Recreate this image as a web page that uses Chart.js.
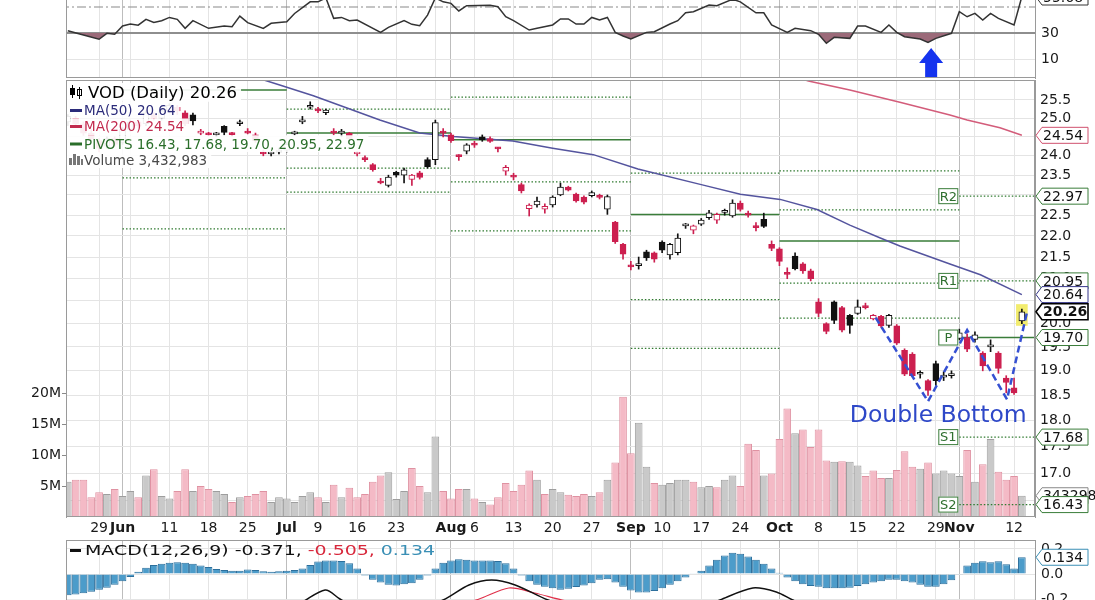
<!DOCTYPE html>
<html>
<head>
<meta charset="utf-8">
<title>VOD Daily</title>
<script src="https://cdn.jsdelivr.net/npm/chart.js@4.4.1/dist/chart.umd.min.js"></script>
<style>
  html, body { margin: 0; padding: 0; background: #fff; }
  body { width: 1095px; height: 600px; position: relative; overflow: hidden; }
  canvas { position: absolute; left: 0; }
  #rsi { top: 0; }
  #price { top: 78px; }
  #macd { top: 540px; }
</style>
</head>
<body>
<canvas id="rsi" width="1095" height="79"></canvas>
<canvas id="price" width="1095" height="462"></canvas>
<canvas id="macd" width="1095" height="60"></canvas>
<script>
// trading days 0..122 (May 22 .. Nov 13), one candle per day
var open = [24.90,25.00,24.85,24.60,24.40,24.25,24.45,24.35,24.70,24.90,
  24.85,25.10,25.00,25.20,25.30,25.15,25.09,24.60,24.60,24.55,
  24.78,24.60,24.85,24.61,24.55,24.10,24.05,24.10,24.15,24.58,
  24.90,25.30,25.22,25.15,24.62,24.60,24.60,24.05,23.92,23.77,
  23.32,23.24,23.57,23.50,23.39,23.56,23.90,23.90,24.65,24.55,
  24.00,24.12,24.33,24.50,24.45,24.20,23.60,23.48,23.26,22.66,
  22.75,22.65,22.75,23.00,23.20,23.02,22.95,22.98,22.96,22.65,
  22.33,21.80,21.30,21.30,21.62,21.60,21.85,21.55,21.60,22.24,
  22.14,22.28,22.44,22.38,22.57,22.48,22.80,22.53,22.25,22.40,
  21.80,21.69,21.12,21.52,21.34,21.18,20.48,20.00,20.48,20.35,
  20.18,20.22,20.38,20.10,20.16,19.96,19.95,19.43,19.35,18.93,
  18.80,19.15,18.87,18.90,19.68,19.70,19.66,19.37,19.50,19.37,
  18.85,18.65,20.06];
var high = [25.10,25.05,24.90,24.70,24.45,24.50,24.50,24.75,24.95,24.95,
  25.20,25.15,25.25,25.40,25.35,25.20,25.14,24.70,24.62,24.62,
  24.80,24.62,24.95,24.72,24.60,24.15,24.12,24.20,24.35,24.65,
  25.05,25.45,25.30,25.25,24.72,24.70,24.62,24.12,24.00,23.80,
  23.42,23.50,23.60,23.68,23.52,23.60,23.95,24.95,24.72,24.60,
  24.03,24.32,24.38,24.55,24.50,24.22,23.75,23.55,23.30,22.78,
  22.95,22.78,22.98,23.30,23.22,23.05,22.98,23.10,23.02,23.00,
  22.35,21.82,21.40,21.50,21.66,21.62,21.88,21.82,22.05,22.30,
  22.26,22.42,22.62,22.55,22.65,22.88,22.85,22.60,22.32,22.55,
  21.88,21.72,21.25,21.60,21.37,21.22,20.55,20.02,20.50,20.38,
  20.20,20.52,20.45,20.20,20.18,20.20,19.98,19.46,19.38,19.00,
  18.82,19.20,18.98,19.00,19.88,19.78,19.82,19.40,19.65,19.40,
  18.90,18.85,20.32];
var low = [24.80,24.75,24.55,24.40,24.10,24.20,24.25,24.30,24.65,24.75,
  24.80,24.95,24.95,25.15,25.10,24.80,24.82,24.55,24.52,24.50,
  24.55,24.52,24.80,24.58,24.35,24.00,24.00,24.05,24.10,24.55,
  24.85,25.25,25.15,25.10,24.55,24.50,24.40,24.00,23.85,23.60,
  23.28,23.20,23.45,23.30,23.24,23.40,23.68,23.77,24.50,24.35,
  23.88,24.05,24.22,24.38,24.35,24.10,23.50,23.38,23.05,22.48,
  22.70,22.55,22.70,22.98,23.10,22.82,22.78,22.95,22.90,22.52,
  21.82,21.45,21.20,21.22,21.42,21.38,21.60,21.45,21.55,22.18,
  22.05,22.25,22.40,22.30,22.50,22.45,22.60,22.45,22.12,22.20,
  21.65,21.30,21.00,21.20,21.12,20.95,20.15,19.78,20.00,19.82,
  19.79,20.20,20.32,20.08,19.92,19.92,19.55,18.90,18.88,18.85,
  18.50,18.70,18.80,18.85,19.65,19.40,19.60,19.00,19.40,18.95,
  18.55,18.52,20.00];
var close = [25.05,24.85,24.60,24.45,24.20,24.45,24.30,24.70,24.90,24.80,
  25.15,25.00,25.20,25.35,25.20,24.85,24.93,24.65,24.55,24.60,
  24.62,24.56,24.88,24.60,24.40,24.05,24.08,24.15,24.30,24.60,
  24.95,25.35,25.20,25.22,24.60,24.65,24.45,24.10,23.90,23.64,
  23.30,23.45,23.50,23.64,23.50,23.44,23.72,24.88,24.60,24.40,
  23.98,24.29,24.28,24.42,24.38,24.18,23.70,23.45,23.10,22.75,
  22.85,22.72,22.95,23.20,23.12,22.85,22.82,23.06,22.94,22.96,
  21.86,21.57,21.27,21.35,21.48,21.45,21.66,21.80,21.95,22.26,
  22.24,22.38,22.56,22.52,22.60,22.80,22.64,22.50,22.20,22.23,
  21.70,21.40,21.10,21.23,21.18,21.00,20.22,19.83,20.07,19.86,
  19.96,20.37,20.35,20.18,19.95,20.18,19.58,18.93,18.90,18.95,
  18.60,18.80,18.90,18.93,19.80,19.45,19.76,19.10,19.52,19.05,
  18.76,18.55,20.26];
// volume in millions of shares
var volume = [5.7,6.0,6.0,3.2,4.0,3.7,4.5,3.4,4.2,3.2,
  6.7,7.7,3.4,3.0,4.2,7.7,4.2,5.0,4.5,4.2,
  3.7,2.4,3.2,3.4,3.7,4.2,2.4,3.2,3.0,2.4,
  3.4,4.0,3.2,2.4,5.2,3.2,4.7,3.2,3.7,5.7,
  6.7,7.2,2.9,4.2,7.9,5.0,4.0,13.0,4.2,3.0,
  4.5,4.5,3.0,2.4,2.0,3.2,5.5,4.2,5.2,7.5,
  6.0,3.7,4.5,4.0,3.6,3.4,3.7,3.4,4.0,6.0,
  8.8,19.4,10.3,15.2,8.1,5.5,5.2,5.5,6.0,6.0,
  5.7,4.8,5.0,4.8,6.0,6.7,5.0,11.8,10.8,6.7,
  7.0,12.6,17.5,13.5,14.1,11.3,14.1,9.1,8.9,9.0,
  8.9,8.3,6.6,7.5,6.3,6.3,7.6,10.6,8.1,7.8,
  8.8,7.0,7.5,7.0,6.6,10.8,5.7,8.5,12.6,7.3,
  6.0,6.6,3.43];
var macdHist = [-0.170,-0.163,-0.154,-0.141,-0.125,-0.109,-0.086,-0.057,-0.023,0.018,
  0.050,0.073,0.082,0.091,0.095,0.091,0.082,0.068,0.057,0.041,
  0.032,0.027,0.027,0.036,0.032,0.023,0.018,0.023,0.027,0.032,
  0.045,0.073,0.100,0.109,0.109,0.104,0.086,0.045,-0.011,-0.045,
  -0.068,-0.086,-0.091,-0.082,-0.073,-0.045,-0.011,0.045,0.091,0.109,
  0.118,0.114,0.109,0.109,0.109,0.104,0.086,0.045,-0.011,-0.057,
  -0.086,-0.102,-0.114,-0.125,-0.118,-0.104,-0.091,-0.073,-0.045,-0.041,
  -0.068,-0.102,-0.132,-0.148,-0.148,-0.136,-0.114,-0.086,-0.057,-0.027,
  0.007,0.027,0.068,0.114,0.148,0.170,0.163,0.141,0.114,0.082,
  0.045,0.011,-0.027,-0.057,-0.082,-0.095,-0.102,-0.114,-0.114,-0.114,
  -0.109,-0.095,-0.082,-0.068,-0.057,-0.045,-0.045,-0.057,-0.068,-0.086,
  -0.102,-0.102,-0.082,-0.050,-0.005,0.068,0.091,0.102,0.095,0.102,
  0.079,0.045,0.134];

// line series (trading-day position, value)
var rsiX = [0,2,4,5,6,7,8,9,10,11,12,13,14,15,16,18,20,21,22,23,25,26,28,29,31,32,33,34,35,36,
  37,40,41,43,44,45,46,47,48,49,50,51,54,55,56,57,59,60,62,63,64,65,66,67,68,69,70,71,72,74,
  75,77,78,79,80,82,83,85,86,88,89,90,92,93,95,96,97,98,100,101,102,104,105,106,107,109,110,111,113,114,
  115,116,117,118,119,121,122];
var rsiY = [31.8,28.5,25.2,29.8,29.0,35.4,36.9,36.0,40.5,38.2,39.5,42.0,40.5,33.6,39.5,33.6,35.4,34.8,43.0,38.0,
  33.6,37.5,38.7,45.0,54.0,54.0,57.0,41.3,42.0,39.5,40.0,30.5,34.4,39.5,36.7,35.6,43.8,57.0,54.0,52.8,
  47.0,51.0,51.3,50.2,42.5,39.5,32.3,33.6,36.2,40.8,40.8,36.9,36.9,42.0,40.0,42.0,30.5,27.7,25.4,30.5,
  31.0,36.9,39.5,45.6,46.4,51.5,51.0,56.0,54.0,45.6,45.6,36.2,30.5,33.6,31.8,29.0,22.1,26.7,25.9,35.4,
  35.4,30.5,36.2,30.5,27.2,25.4,22.8,25.9,29.8,46.4,42.5,45.1,40.0,45.1,41.3,36.2,58.0];
var ma50X = [24.5,27.1,31.4,35.7,39.9,45.0,49.3,56.9,62.0,67.2,72.9,81.0,86.0,91.1,95.8,100.0,103.9,106.4,112.8,116.7,122.0];
var ma50Y = [26.10,25.92,25.62,25.28,24.95,24.60,24.51,24.39,24.20,24.03,23.66,23.26,23.02,22.89,22.64,22.26,21.95,21.76,21.34,21.09,20.64];
var ma200X = [93.5,94.7,100.0,106.4,112.8,115.0,119.2,122.0];
var ma200Y = [26.12,26.03,25.78,25.44,25.09,24.95,24.74,24.54];
var macdX = [0,20,29,32.9,34.8,37,45,48,51.3,54.2,57.2,61.4,66,75,80,83.4,87.6,90.6,92.7,100,110,122];
var macdY = [-0.45,-0.3,-0.25,-0.128,-0.2,-0.27,-0.26,-0.208,-0.088,-0.048,-0.088,-0.208,-0.3,-0.45,-0.3,-0.208,-0.112,-0.144,-0.208,-0.4,-0.55,-0.371];
var signalX = [0,45,52.2,56.4,59.7,63.2,70,122];
var signalY = [-0.4,-0.3,-0.208,-0.112,-0.152,-0.208,-0.3,-0.505];
var bottomX = [103.3,110.0,115.0,120.1,122.7];
var bottomY = [20.13,18.38,19.86,18.42,20.28];

// monthly pivot levels, each month runs from its first trading day to the next
var pivotStart = [7,28,49,72,91,114];
var pivotEnd = [28,49,72,91,114,124];
var pivotP = [25.78,24.60,24.42,22.52,21.88,19.70];
var pivotR2 = [null,null,null,null,23.61,22.97];
var pivotR1 = [null,25.25,25.58,23.55,22.63,20.95];
var pivotS1 = [23.43,23.68,23.33,20.53,20.90,17.68];
var pivotS2 = [22.17,23.07,22.12,19.47,20.12,16.43];

// axis ticks
var tickIdx = [4,7,8,13,18,23,28,32,37,42,47,49,52,57,62,67,72,76,81,86,91,96,101,106,111,114,116,121];
var tickText = ["29","Jun","","11","18","25","Jul","9","16","23","","Aug","6","13","20","27","Sep","10","17","24","Oct","8","15","22","29","Nov","","12"];
var monthIdx = [7,28,49,72,91,114];
var priceTicks = [16.5,17.0,17.5,18.0,18.5,19.0,19.5,20.0,20.5,21.0,21.5,22.0,22.5,23.0,23.5,24.0,24.5,25.0,25.5];
var volTicks = [5,10,15,20];
var rsiTicks = [10,30];
var macdTicks = [-0.2,0,0.2];

Chart.defaults.font.family = "'DejaVu Sans', sans-serif";
Chart.defaults.font.size = 14;
Chart.defaults.color = "#222";
Chart.defaults.animation = false;
Chart.defaults.plugins.legend.display = false;
Chart.defaults.plugins.tooltip.enabled = false;

var FONT = "'DejaVu Sans', sans-serif";
var GREEN = "#3a7d3a";
var days = close.map(function (c, i) { return i; });
var upDay = close.map(function (c, i) { return i === 0 || c >= close[i - 1]; });
var candleColor = upDay.map(function (u) { return u ? "#111111" : "#cc1f4f"; });
var bodyFill = close.map(function (c, i) { return c > open[i] ? "#ffffff" : candleColor[i]; });

function points(xs, ys) {
  return xs.map(function (x, i) { return { x: x, y: ys[i] }; });
}

function segments(levelSets) {
  var out = [];
  levelSets.forEach(function (levels) {
    levels.forEach(function (v, m) {
      if (v == null) return;
      out.push({ x: pivotStart[m], y: v }, { x: pivotEnd[m], y: v }, { x: pivotEnd[m], y: null });
    });
  });
  return out;
}

function isMonth(v) {
  return monthIdx.indexOf(v) >= 0;
}

// chart.js reserves half a label of room above/below axes; the panels here are cropped instead
function noPadY(width) {
  return function (s) {
    s.width = width;
    s.paddingTop = 0;
    s.paddingBottom = 0;
  };
}

function xAxis(withLabels) {
  return {
    type: "linear",
    min: -0.23,
    max: 123.68,
    offset: false,
    afterBuildTicks: function (s) {
      s.ticks = tickIdx.map(function (v) { return { value: v }; });
    },
    afterFit: function (s) {
      s.height = withLabels ? 23 : 0;
      s.paddingLeft = 0;
      s.paddingRight = 0;
    },
    grid: {
      offset: false,
      drawTicks: false,
      color: function (c) { return c.tick && isMonth(c.tick.value) ? "#bdbdbd" : "#e4e4e4"; },
    },
    border: { display: false },
    ticks: {
      display: withLabels,
      autoSkip: false,
      maxRotation: 0,
      padding: 3,
      color: "#1a1a1a",
      callback: function (v, i) { return tickText[i]; },
      font: function (c) {
        var bold = c.tick && isMonth(c.tick.value);
        return { family: FONT, size: 14, weight: bold ? "bold" : "normal" };
      },
    },
  };
}

function drawTag(ctx, x, y, text, color, bold) {
  ctx.save();
  ctx.beginPath();
  ctx.moveTo(x, y);
  ctx.lineTo(x + 6, y - 8);
  ctx.lineTo(x + 52, y - 8);
  ctx.lineTo(x + 52, y + 8);
  ctx.lineTo(x + 6, y + 8);
  ctx.closePath();
  ctx.fillStyle = "#ffffff";
  ctx.fill();
  ctx.lineWidth = bold ? 1.6 : 1;
  ctx.strokeStyle = color;
  ctx.stroke();
  ctx.fillStyle = "#111";
  ctx.font = (bold ? "bold " : "") + "14px " + FONT;
  ctx.textBaseline = "middle";
  ctx.fillText(text, x + 7, y + 1);
  ctx.restore();
}

function framePlugin(sides) {
  return {
    id: "frame",
    afterDatasetsDraw: function (chart) {
      var a = chart.chartArea, ctx = chart.ctx;
      ctx.save();
      ctx.strokeStyle = "#9a9a9a";
      ctx.lineWidth = 1;
      ctx.beginPath();
      if (sides.indexOf("t") >= 0) { ctx.moveTo(a.left, a.top + 0.5); ctx.lineTo(a.right, a.top + 0.5); }
      if (sides.indexOf("b") >= 0) { ctx.moveTo(a.left, a.bottom - 0.5); ctx.lineTo(a.right, a.bottom - 0.5); }
      if (sides.indexOf("l") >= 0) { ctx.moveTo(a.left + 0.5, a.top); ctx.lineTo(a.left + 0.5, a.bottom); }
      if (sides.indexOf("r") >= 0) { ctx.moveTo(a.right - 0.5, a.top); ctx.lineTo(a.right - 0.5, a.bottom); }
      ctx.stroke();
      ctx.restore();
    },
  };
}

/* ---------- RSI panel ---------- */
new Chart(document.getElementById("rsi"), {
  type: "line",
  data: {
    datasets: [
      {
        data: points(rsiX, rsiY),
        borderColor: "#333333",
        borderWidth: 1.5,
        pointRadius: 0,
        tension: 0,
        fill: { target: { value: 30 }, above: "rgba(0,0,0,0)", below: "#9b6a79" },
      },
      {
        data: [{ x: -1, y: 50 }, { x: 125, y: 50 }],
        borderColor: "#8a8a8a",
        borderWidth: 1.2,
        borderDash: [9, 3, 2, 3],
        pointRadius: 0,
      },
    ],
  },
  options: {
    responsive: false,
    devicePixelRatio: 1,
    layout: { padding: { left: 66, right: 0, top: 0, bottom: 1 } },
    scales: {
      x: xAxis(false),
      y: {
        position: "right",
        min: -4.6,
        max: 55.4,
        afterFit: noPadY(60),
        afterBuildTicks: function (s) {
          s.ticks = rsiTicks.map(function (v) { return { value: v }; });
        },
        grid: {
          drawTicks: false,
          color: function (c) { return c.tick && c.tick.value === 30 ? "#8e8e8e" : "#e4e4e4"; },
          lineWidth: function (c) { return c.tick && c.tick.value === 30 ? 2 : 1; },
        },
        border: { color: "#9a9a9a" },
        ticks: { padding: 6, color: "#1a1a1a" },
      },
    },
  },
  plugins: [
    framePlugin("lb"),
    {
      id: "rsiExtras",
      afterDraw: function (chart) {
        var ctx = chart.ctx;
        var x = chart.scales.x.getPixelForValue(110.4);
        ctx.save();
        ctx.fillStyle = "#1533ee";
        ctx.beginPath();
        ctx.moveTo(x, 48);
        ctx.lineTo(x + 12, 63);
        ctx.lineTo(x + 6, 63);
        ctx.lineTo(x + 6, 77);
        ctx.lineTo(x - 6, 77);
        ctx.lineTo(x - 6, 63);
        ctx.lineTo(x - 12, 63);
        ctx.closePath();
        ctx.fill();
        ctx.restore();
        drawTag(ctx, chart.chartArea.right + 1, -3, "55.68", "#333", false);
      },
    },
  ],
});

/* ---------- price + volume panel ---------- */
var legendRows = [
  { text: "VOD (Daily) 20.26", color: "#000000", size: 16.5, mark: "candle", y: 15 },
  { text: "MA(50) 20.64", color: "#2b2b7a", size: 13.5, mark: "line", y: 32.5 },
  { text: "MA(200) 24.54", color: "#c22a4e", size: 13.5, mark: "line", y: 48.5 },
  { text: "PIVOTS 16.43, 17.68, 19.70, 20.95, 22.97", color: "#2a6e2a", size: 13.5, mark: "line", y: 66 },
  { text: "Volume 3,432,983", color: "#4a4a4a", size: 13.5, mark: "bars", y: 82 },
];
var priceTags = [
  { v: 24.54, text: "24.54", color: "#d0506e" },
  { v: 22.97, text: "22.97", color: GREEN },
  { v: 20.95, text: "20.95", color: GREEN },
  { v: 20.64, text: "20.64", color: "#35358a" },
  { v: 19.70, text: "19.70", color: GREEN },
  { v: 17.68, text: "17.68", color: GREEN },
  { v: 20.26, text: "20.26", color: "#000000", bold: true },
];
var pivotLabels = [
  { v: 22.97, text: "R2" },
  { v: 20.95, text: "R1" },
  { v: 19.70, text: "P" },
  { v: 17.68, text: "S1" },
  { v: 16.43, text: "S2" },
];

new Chart(document.getElementById("price"), {
  type: "bar",
  data: {
    datasets: [
      {
        type: "bar",
        yAxisID: "yv",
        order: 9,
        grouped: false,
        data: points(days, volume),
        backgroundColor: upDay.map(function (u) { return u ? "#c9c9c9" : "#f4bac6"; }),
        borderColor: upDay.map(function (u) { return u ? "#9e9e9e" : "#df92a2"; }),
        borderWidth: 1,
        borderSkipped: false,
        barPercentage: 1,
        categoryPercentage: 0.98,
      },
      {
        type: "line",
        yAxisID: "y",
        order: 8,
        data: segments([pivotP]),
        borderColor: GREEN,
        borderWidth: 1.5,
        pointRadius: 0,
        spanGaps: false,
      },
      {
        type: "line",
        yAxisID: "y",
        order: 8,
        data: segments([pivotR2, pivotR1, pivotS1, pivotS2]),
        borderColor: "#2f7a2f",
        borderWidth: 1.3,
        borderDash: [1.5, 2],
        pointRadius: 0,
        spanGaps: false,
      },
      {
        type: "line",
        yAxisID: "y",
        order: 7,
        data: points(ma50X, ma50Y),
        borderColor: "#54549e",
        borderWidth: 1.5,
        pointRadius: 0,
      },
      {
        type: "line",
        yAxisID: "y",
        order: 7,
        data: points(ma200X, ma200Y),
        borderColor: "#d35c7a",
        borderWidth: 1.5,
        pointRadius: 0,
      },
      {
        type: "bar",
        yAxisID: "y",
        order: 6,
        grouped: false,
        data: [{ x: 122, y: [19.96, 20.42] }],
        backgroundColor: "#f2ec6e",
        barThickness: 11,
      },
      {
        type: "bar",
        yAxisID: "y",
        order: 5,
        grouped: false,
        data: days.map(function (i) { return { x: i, y: [low[i], high[i]] }; }),
        backgroundColor: candleColor,
        barThickness: 1,
      },
      {
        type: "bar",
        yAxisID: "y",
        order: 4,
        grouped: false,
        data: days.map(function (i) {
          return { x: i, y: [Math.min(open[i], close[i]), Math.max(open[i], close[i])] };
        }),
        backgroundColor: bodyFill,
        borderColor: candleColor,
        borderWidth: 1,
        borderSkipped: false,
        barThickness: 6,
        minBarLength: 2,
      },
      {
        type: "line",
        yAxisID: "y",
        order: 2,
        data: points(bottomX, bottomY),
        borderColor: "#3550d2",
        borderWidth: 2.5,
        borderDash: [7, 4],
        pointRadius: 0,
      },
    ],
  },
  options: {
    responsive: false,
    devicePixelRatio: 1,
    layout: { padding: { left: 0, right: 0, top: 2, bottom: 0 } },
    scales: {
      x: xAxis(true),
      y: {
        type: "logarithmic",
        position: "right",
        min: 16.21,
        max: 26.06,
        afterFit: noPadY(60),
        afterBuildTicks: function (s) {
          s.ticks = priceTicks.map(function (v) { return { value: v }; });
        },
        grid: { drawTicks: false, color: "#e4e4e4" },
        border: { color: "#9a9a9a" },
        ticks: {
          padding: 5,
          color: "#1a1a1a",
          callback: function (v) { return Number(v).toFixed(1); },
        },
      },
      yv: {
        type: "linear",
        position: "left",
        min: 0,
        max: 70.5,
        afterFit: noPadY(66),
        afterBuildTicks: function (s) {
          s.ticks = volTicks.map(function (v) { return { value: v }; });
        },
        grid: { drawOnChartArea: false, tickLength: 4, color: "#8a8a8a" },
        border: { color: "#9a9a9a" },
        ticks: {
          padding: 1,
          color: "#1a1a1a",
          callback: function (v) { return v + "M"; },
        },
      },
    },
  },
  plugins: [
    framePlugin("tblr"),
    {
      id: "priceExtras",
      afterDraw: function (chart) {
        var ctx = chart.ctx, a = chart.chartArea;
        var xs = chart.scales.x, ys = chart.scales.y, yv = chart.scales.yv;

        // legend block, top left
        legendRows.forEach(function (r, k) {
          ctx.save();
          ctx.font = r.size + "px " + FONT;
          var tx = r.mark === "candle" ? 88 : 84;
          var w = ctx.measureText(r.text).width;
          var top = k === 0 ? 5 : legendRows[k - 1].y + (r.y - legendRows[k - 1].y) / 2;
          var bottom = k === legendRows.length - 1 ? r.y + 8 : r.y + (legendRows[k + 1].y - r.y) / 2;
          ctx.fillStyle = "rgba(255,255,255,0.92)";
          ctx.fillRect(a.left + 1, top, tx + w + 3 - a.left, bottom - top);
          if (r.mark === "line") {
            ctx.fillStyle = r.color;
            ctx.fillRect(70, r.y - 1.5, 12, 3);
          } else if (r.mark === "candle") {
            ctx.fillStyle = "#000";
            ctx.fillRect(72, r.y - 8, 1, 13);
            ctx.fillRect(70, r.y - 5, 5, 7);
            ctx.fillRect(79, r.y - 6, 1, 12);
            ctx.strokeStyle = "#000";
            ctx.strokeRect(77.5, r.y - 3.5, 4, 6);
          } else {
            ctx.fillStyle = "#777";
            ctx.fillRect(69, r.y - 2, 3, 7);
            ctx.fillRect(73, r.y - 6, 3, 11);
            ctx.fillRect(77, r.y - 4, 3, 9);
            ctx.fillRect(81, r.y - 1, 2, 6);
          }
          ctx.fillStyle = r.color;
          ctx.textBaseline = "middle";
          ctx.fillText(r.text, tx, r.y + 1);
          ctx.restore();
        });

        // pivot names to the left of the November levels
        var px = xs.getPixelForValue(pivotStart[pivotStart.length - 1]);
        pivotLabels.forEach(function (p) {
          var y = ys.getPixelForValue(p.v);
          ctx.save();
          ctx.fillStyle = "#fff";
          ctx.fillRect(px - 21, y - 8, 20, 16);
          ctx.strokeStyle = GREEN;
          ctx.strokeRect(px - 20.5, y - 7.5, 19, 15);
          ctx.fillStyle = "#2f6f2f";
          ctx.font = "13px " + FONT;
          ctx.textAlign = "center";
          ctx.textBaseline = "middle";
          ctx.fillText(p.text, px - 11, y + 1);
          ctx.restore();
        });

        // pattern label
        ctx.save();
        ctx.fillStyle = "#2e48c8";
        ctx.font = "23.5px " + FONT;
        ctx.textBaseline = "alphabetic";
        ctx.fillText("Double Bottom", xs.getPixelForValue(100), ys.getPixelForValue(17.98));
        ctx.restore();

        // value tags on the right axis
        var tx = a.right + 1;
        drawTag(ctx, tx, yv.getPixelForValue(volume[volume.length - 1]), "3432983", "#888", false);
        drawTag(ctx, tx, ys.getPixelForValue(16.43), "16.43", GREEN, false);
        priceTags.forEach(function (t) {
          drawTag(ctx, tx, ys.getPixelForValue(t.v), t.text, t.color, t.bold);
        });
      },
    },
  ],
});

/* ---------- MACD panel ---------- */
new Chart(document.getElementById("macd"), {
  type: "bar",
  data: {
    datasets: [
      {
        type: "bar",
        order: 3,
        grouped: false,
        data: points(days, macdHist),
        backgroundColor: "#4c9cca",
        borderColor: "#2c6f9c",
        borderWidth: 1,
        barPercentage: 1,
        categoryPercentage: 0.98,
      },
      {
        type: "line",
        order: 1,
        data: points(macdX, macdY),
        borderColor: "#111",
        borderWidth: 1.5,
        pointRadius: 0,
        tension: 0.3,
      },
      {
        type: "line",
        order: 2,
        data: points(signalX, signalY),
        borderColor: "#e0304a",
        borderWidth: 1.2,
        pointRadius: 0,
        tension: 0.3,
      },
    ],
  },
  options: {
    responsive: false,
    devicePixelRatio: 1,
    layout: { padding: { left: 66, right: 0, top: 0, bottom: 0 } },
    scales: {
      x: xAxis(false),
      y: {
        position: "right",
        min: -0.208,
        max: 0.272,
        afterFit: noPadY(60),
        afterBuildTicks: function (s) {
          s.ticks = macdTicks.map(function (v) { return { value: v }; });
        },
        grid: { drawTicks: false, color: "#e4e4e4" },
        border: { color: "#9a9a9a" },
        ticks: {
          padding: 6,
          color: "#1a1a1a",
          callback: function (v) { return Number(v).toFixed(1); },
        },
      },
    },
  },
  plugins: [
    framePlugin("tl"),
    {
      id: "macdExtras",
      afterDraw: function (chart) {
        var ctx = chart.ctx;
        var parts = [
          ["MACD(12,26,9) -0.371, ", "#111"],
          ["-0.505, ", "#d8283c"],
          ["0.134", "#3a8fb5"],
        ];
        ctx.save();
        ctx.fillStyle = "#111";
        ctx.fillRect(70, 9, 11, 3);
        ctx.font = "14px " + FONT;
        ctx.textBaseline = "middle";
        var total = 0;
        parts.forEach(function (p) { total += ctx.measureText(p[0]).width; });
        // the legend in the picture is drawn wider than the font's natural width
        ctx.translate(85, 11);
        ctx.scale(350 / total, 1);
        var x = 0;
        parts.forEach(function (p) {
          ctx.fillStyle = p[1];
          ctx.fillText(p[0], x, 0);
          x += ctx.measureText(p[0]).width;
        });
        ctx.restore();
        drawTag(ctx, chart.chartArea.right + 1, chart.scales.y.getPixelForValue(0.134), "0.134", "#3a8fb5", false);
      },
    },
  ],
});
</script>
</body>
</html>
